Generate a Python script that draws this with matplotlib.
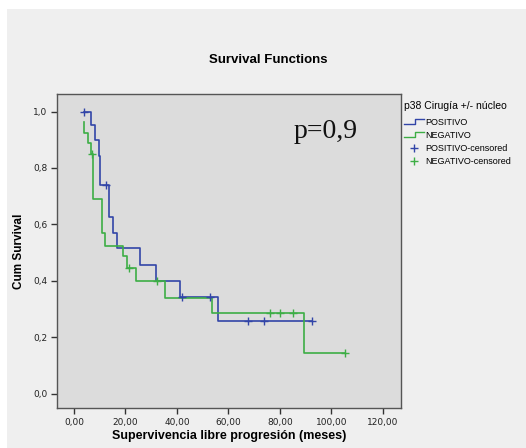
import matplotlib
matplotlib.use('Agg')
from matplotlib import pyplot as plt
from matplotlib.lines import Line2D
from matplotlib.patches import Rectangle
from matplotlib.legend_handler import HandlerBase

# datos (tiempo en meses, supervivencia acumulada)
pos_t = [3.8, 6.7, 8.3, 9.7, 10.2, 13.5, 15.1, 16.8, 25.5, 31.8, 41.2, 55.8, 92.3]
pos_s = [1.0, 0.952, 0.899, 0.842, 0.740, 0.628, 0.569, 0.515, 0.457, 0.401, 0.342, 0.258, 0.258]
pos_cens_t = [3.8, 12.3, 41.8, 53.0, 67.7, 73.9, 92.3]
pos_cens_s = [1.0, 0.740, 0.342, 0.342, 0.258, 0.258, 0.258]

neg_t = [3.8, 3.85, 5.4, 6.7, 7.3, 10.9, 11.9, 19.2, 20.4, 24.1, 35.3, 53.5, 89.3, 105.2]
neg_s = [0.964, 0.925, 0.890, 0.850, 0.689, 0.569, 0.525, 0.488, 0.445, 0.398, 0.341, 0.288, 0.144, 0.144]
neg_cens_t = [6.9, 21.5, 32.4, 76.1, 80.0, 84.9, 105.2]
neg_cens_s = [0.850, 0.445, 0.398, 0.288, 0.288, 0.288, 0.144]

x_ticks = [0, 20, 40, 60, 80, 100, 120]
y_ticks = [0.0, 0.2, 0.4, 0.6, 0.8, 1.0]

BLUE = '#3245a8'
GREEN = '#3dae45'


class HandlerStep(HandlerBase):
    '''dibuja el simbolo escalonado de la leyenda como en SPSS'''
    def create_artists(self, legend, orig_handle, xdescent, ydescent,
                       width, height, fontsize, trans):
        w = width
        h = height
        xs = [-xdescent, -xdescent + w * 0.55, -xdescent + w * 0.55, -xdescent + w]
        ys = [-ydescent + h * 0.1, -ydescent + h * 0.1, -ydescent + h * 0.9, -ydescent + h * 0.9]
        ln = Line2D(xs, ys, color=orig_handle.get_color(), lw=1.0, transform=trans)
        return [ln]


fig = plt.figure(figsize=(5.26, 4.48), dpi=100, facecolor='white')
fig.patches.append(Rectangle((7 / 526, 0), 1, 1 - 9 / 448, transform=fig.transFigure,
                             facecolor='#efefef', edgecolor='none', zorder=-10))

ax = fig.add_axes([57 / 526, 1 - 408 / 448, 344 / 526, 314 / 448])
ax.set_facecolor('#dcdcdc')

l1, = ax.step(pos_t, pos_s, where='post', color=BLUE, lw=1.2)
l2, = ax.step(neg_t, neg_s, where='post', color=GREEN, lw=1.2)
c1, = ax.plot(pos_cens_t, pos_cens_s, ls='none', marker='+', ms=6, mew=1.0, color=BLUE)
c2, = ax.plot(neg_cens_t, neg_cens_s, ls='none', marker='+', ms=6, mew=1.0, color=GREEN)

ax.set_xlim(-6.6, 127)
ax.set_ylim(-0.05, 1.062)
ax.set_xticks(x_ticks)
ax.set_xticklabels([f'{v:.2f}'.replace('.', ',') for v in x_ticks])
ax.set_yticks(y_ticks)
ax.set_yticklabels([f'{v:.1f}'.replace('.', ',') for v in y_ticks])
ax.tick_params(direction='out', length=4, width=1, labelsize=6.5, colors='#333333',
               labelcolor='#222222', pad=3)
for sp in ax.spines.values():
    sp.set_color('#555555')
    sp.set_linewidth(1.0)

ax.set_xlabel('Supervivencia libre progresión (meses)', fontsize=9, fontweight='bold',
              family='Liberation Sans', labelpad=2)
ax.set_ylabel('Cum Survival', fontsize=8.5, fontweight='bold', family='Liberation Sans',
              labelpad=6)
fig.text(268 / 526, 1 - 60 / 448, 'Survival Functions', ha='center', va='center',
         fontsize=9.5, fontweight='bold', family='Liberation Sans')

ax.text(85.4, 0.906, 'p=0,9', family='Liberation Serif', fontsize=20, color='#111111')

leg = fig.legend([l1, l2, c1, c2],
                 ['POSITIVO', 'NEGATIVO', 'POSITIVO-censored', 'NEGATIVO-censored'],
                 handler_map={l1: HandlerStep(), l2: HandlerStep()},
                 loc='upper left', bbox_to_anchor=(404 / 526, 1 - 101 / 448),
                 title='p38 Cirugía +/- núcleo', frameon=False,
                 prop={'size': 6.5, 'family': 'Liberation Sans'},
                 handlelength=2.2, handletextpad=0.2, labelspacing=0.45,
                 borderaxespad=0, borderpad=0)
leg.get_title().set_fontsize(7.5)
leg.get_title().set_family('Liberation Sans')
leg._legend_box.align = 'left'
leg._legend_box.sep = 5

plt.savefig('out.png', dpi=100, facecolor=fig.get_facecolor())
